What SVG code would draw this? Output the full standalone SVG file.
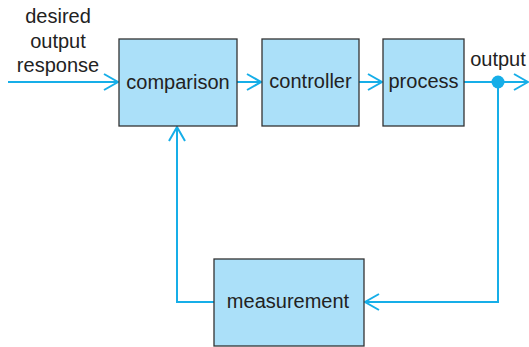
<svg xmlns="http://www.w3.org/2000/svg" width="529" height="347" viewBox="0 0 529 347">
<defs>
<style>
.box{fill:#abe0f9;stroke:#333;stroke-width:1.3}
.lbl{font-family:"Liberation Sans",Arial,sans-serif;font-size:20px;fill:#222;text-anchor:middle}
.ln{fill:none;stroke:#16aee8;stroke-width:2}
.ah{fill:none;stroke:#16aee8;stroke-width:2}
</style>
</defs>
<rect width="529" height="347" fill="#fff"/>
<g id="connectors">
<path class="ln" d="M8,82 H118"/>
<path class="ah" d="M104,74 L118,82 L104,90"/>
<path class="ln" d="M237,82 H261"/>
<path class="ah" d="M247,74 L261,82 L247,90"/>
<path class="ln" d="M359,82 H382"/>
<path class="ah" d="M368,74 L382,82 L368,90"/>
<path class="ln" d="M464,82 H527"/>
<path class="ah" d="M514,74 L528,82 L514,90"/>
<circle cx="498" cy="82" r="6.5" fill="#16aee8"/>
<path class="ln" d="M498,82 V302 H365"/>
<path class="ah" d="M379,294 L365,302 L379,310"/>
<path class="ln" d="M214,302 H177 V127"/>
<path class="ah" d="M169,141 L177,127 L185,141"/>
</g>
<g id="input-label">
<text class="lbl" x="58" y="23">desired</text>
<text class="lbl" x="58" y="48">output</text>
<text class="lbl" x="58" y="72">response</text>
</g>
<g id="comparison">
<rect class="box" x="119" y="39" width="118" height="87"/>
<text class="lbl" x="178" y="89">comparison</text>
</g>
<g id="controller">
<rect class="box" x="262" y="39" width="97" height="87"/>
<text class="lbl" x="310.5" y="88">controller</text>
</g>
<g id="process">
<rect class="box" x="383" y="39" width="81" height="87"/>
<text class="lbl" x="423.5" y="88">process</text>
</g>
<g id="output-label">
<text class="lbl" x="498" y="66">output</text>
</g>
<g id="measurement">
<rect class="box" x="214" y="259" width="150" height="87"/>
<text class="lbl" x="288" y="308">measurement</text>
</g>
</svg>
